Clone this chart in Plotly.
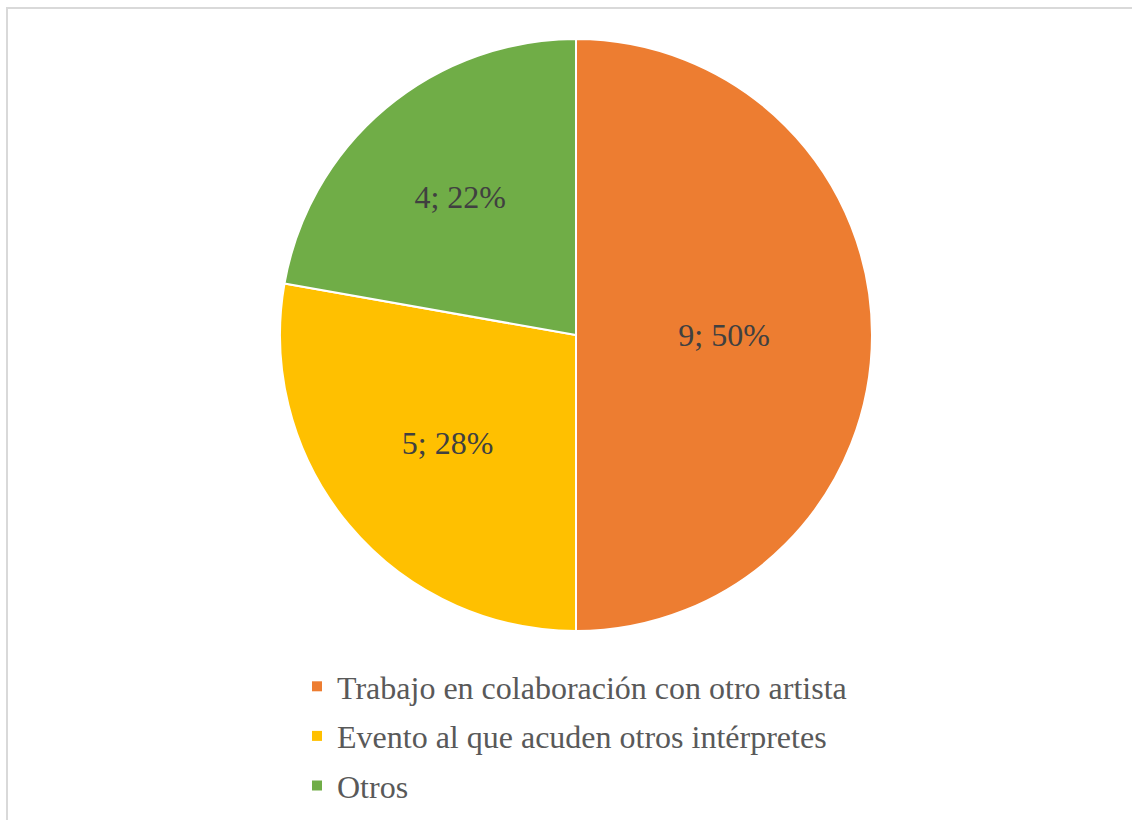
import plotly.graph_objects as go

# Categories and counts
categories = [
    "Trabajo en colaboración con otro artista",
    "Evento al que acuden otros intérpretes",
    "Otros",
]
counts = [9, 5, 4]
colors = ["#ED7D31", "#FFC000", "#70AD47"]

W, H = 1132, 820
cx, cy, r = 576, 335, 296
SERIF = "Liberation Serif, Times New Roman, serif"

fig = go.Figure()

fig.add_trace(
    go.Pie(
        labels=categories,
        values=counts,
        sort=False,
        direction="clockwise",
        rotation=0,
        marker=dict(colors=colors, line=dict(color="white", width=2)),
        texttemplate="%{value}; %{percent:.0%}",
        textposition="inside",
        insidetextorientation="horizontal",
        textfont=dict(family=SERIF, size=32, color="#404040"),
        hoverinfo="label+value+percent",
        showlegend=False,
        domain=dict(
            x=[(cx - r) / W, (cx + r) / W],
            y=[1 - (cy + r) / H, 1 - (cy - r) / H],
        ),
    )
)

# Legend entries: one square swatch per category
for cat, col in zip(categories, colors):
    fig.add_trace(
        go.Scatter(
            x=[None],
            y=[None],
            mode="markers",
            marker=dict(symbol="square", size=10, color=col),
            name=cat,
            legendgroup=cat,
            hoverinfo="skip",
        )
    )

fig.update_layout(
    width=W,
    height=H,
    margin=dict(l=0, r=0, t=0, b=0),
    paper_bgcolor="white",
    plot_bgcolor="white",
    showlegend=True,
    xaxis=dict(visible=False),
    yaxis=dict(visible=False),
    legend=dict(
        x=297 / W,
        y=1 - 659 / H,
        xanchor="left",
        yanchor="top",
        tracegroupgap=5,
        font=dict(family=SERIF, size=32, color="#595959"),
        bgcolor="rgba(0,0,0,0)",
    ),
    shapes=[
        dict(
            type="rect",
            xref="paper",
            yref="paper",
            x0=7 / W,
            x1=1.05,
            y0=-0.05,
            y1=1 - 8 / H,
            line=dict(color="#D9D9D9", width=2),
            fillcolor="rgba(0,0,0,0)",
            layer="below",
        )
    ],
)

fig.write_html("out.html")
